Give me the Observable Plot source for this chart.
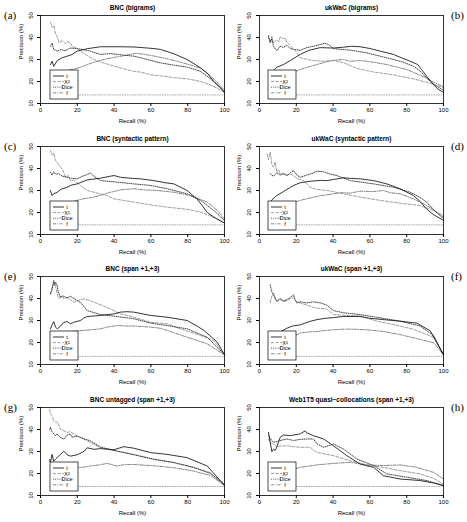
<!DOCTYPE html>
<html><head><meta charset="utf-8">
<script src="https://cdn.jsdelivr.net/npm/d3@7"></script>
<script src="https://cdn.jsdelivr.net/npm/@observablehq/plot@0.6"></script>
<style>
html,body{margin:0;padding:0;background:#fff;}
#chart{position:relative;width:467px;height:522px;overflow:hidden;font-family:"Liberation Sans",Arial,sans-serif;}
.panel{position:absolute;}
.panel svg{overflow:visible;}
.tag{position:absolute;font-family:"Liberation Serif","DejaVu Serif",serif;font-size:11px;line-height:11px;}
</style></head><body><div id="chart"></div>
<script>
// ---- data: [recall %, precision %] ----
const a_t=[[5.4,27.7],[6.3,29.2],[7.2,26.9],[9.1,29.5],[11.8,30.8],[14.5,31.5],[17.2,32.3],[19.9,33.8],[25.4,34.9],[32.6,35.8],[41.7,35.8],[50.7,35.7],[59.8,35.1],[65.2,34.6],[72.5,32.6],[79.7,30],[87,26.2],[90.6,23.8],[94.2,20],[97.8,17.2],[100,15]];
const a_x2=[[5.4,47],[6.3,44.6],[7.2,45.5],[8.2,41.5],[9.1,40.5],[10,37.7],[11.8,38.5],[13.6,37.2],[14.5,38.2],[16.3,37.5],[17.2,36],[19.9,35],[21.7,33.8],[25.4,31.8],[29,30],[34,28.5],[40,27],[45,25.8],[51,24.6],[55,24.2],[60,23],[66,22.5],[72,21.8],[80,21.2],[87,20],[92,18.5],[96,17],[100,15]];
const a_dice=[[5.4,36],[6.3,37.5],[7.2,34.6],[9.1,33.8],[11,34.5],[13.6,34],[16,35.2],[19.9,35],[23.6,34.4],[27,33.8],[32.6,32.3],[38,32.7],[45,32],[51,31.5],[58,30],[65,28.5],[72,27.5],[80,26.5],[87,24.6],[92,21.5],[96,18.5],[100,15.2]];
const a_f=[[12.7,24.6],[14.5,25],[18,25.6],[21.7,26.5],[25.4,27.7],[30,29],[36,30.3],[41.7,31.2],[47,32],[52,32.8],[56,32.4],[62,31.5],[68,30.5],[75,29],[81.5,27.5],[87,26],[91,23.5],[95,20.5],[100,16]];

const b_t=[[5.8,23.8],[7.6,25],[9.4,26.5],[13,27.7],[16.7,29.5],[22.1,32.3],[27,34.2],[33,35.4],[40,35.2],[45.7,35.6],[50,36],[54.7,35.8],[60,35],[65.6,33.8],[72.8,32.3],[78,30.5],[81.9,29.2],[86,27.7],[88,25.5],[90.9,22.3],[94.6,18.5],[97,16.5],[100,15]];
const b_x2=[[4.9,40],[5.8,38],[6.7,40.5],[7.6,37.5],[9.4,39],[10.5,38],[11.2,40.2],[13,39.5],[14,39.8],[14.9,37.7],[16.7,36.5],[17.6,35.4],[19.5,34],[22.1,30.8],[25,30.2],[29.3,29.5],[35,29.2],[40.2,29.6],[45.7,28.5],[52.9,26],[62,24.3],[72.8,23],[83.7,21.2],[92.8,19.2],[100,17.2]];
const b_dice=[[4.9,40.8],[5.8,37.5],[6.7,39.5],[7.6,36],[9.4,34],[11.2,36],[13,35.5],[14.9,36.5],[16.7,35],[18.5,34.6],[22.1,34.2],[25.7,35.4],[29.3,36],[33,36.8],[35.5,37.4],[37.5,36.8],[40.2,35],[44,34.6],[50,34.2],[58.3,33],[65.6,31.5],[72.8,30],[78,28.8],[83.7,26.9],[87,25],[90.9,21.5],[95,18.5],[100,16]];
const b_f=[[15.8,24.6],[18.5,24.2],[22.1,25.4],[26,26.5],[31.2,27.7],[36.6,29],[42,29.8],[45.7,30],[49.3,29.2],[54.7,29.5],[58.3,29.2],[63.8,28.5],[69.2,27.7],[75,26.5],[80.1,25.4],[85.5,23.5],[90.9,21.5],[95,19.5],[100,17.7]];

const c_t=[[5.4,30],[6.3,27.7],[7.2,28.5],[9.1,29.2],[11,30.5],[14.5,31.5],[17,32.5],[19.9,33],[25.4,34.8],[32.6,35.6],[38,36.5],[40,36.8],[43.5,36],[50,35.5],[54.3,35.3],[61.6,34.5],[68,33.5],[72.5,33],[79.7,30],[85,26.2],[88,23],[90.6,20],[95,17.5],[100,15.2]];
const c_x2=[[5.4,48.2],[6.3,46],[7.2,47],[8.2,43.5],[9.1,42.9],[10,41.5],[10.9,40.6],[12,39.5],[13.6,36],[15,36.8],[16.3,34.5],[18,34.8],[21.7,32.3],[25.4,30],[30,29],[36,27.7],[40,26.2],[45,25.5],[51,24.7],[58,23.7],[62,23.2],[68,22.5],[72.5,22.1],[80,21.4],[87,20.2],[92,18.5],[96,17],[100,15.2]];
const c_dice=[[5.4,38.3],[6.3,37],[7.2,38.5],[8.2,37.5],[10,37.6],[12,36.5],[14.5,36],[17,35.5],[19.9,35.3],[23,36.5],[27.2,37.9],[29,36.5],[32.6,34.5],[41.7,33.8],[50.7,33],[59.8,32.3],[68.8,30.8],[79.7,28.5],[87,25.5],[94.2,20.9],[100,16.4]];
const c_f=[[12.7,23.9],[16,24.5],[19.9,25.5],[23,26.2],[29,27],[34,28.2],[38,29.2],[43.5,30.3],[50.7,30.8],[56,30.3],[63.4,30],[72.5,29.2],[81.5,27.7],[90.6,24.7],[96,21],[100,17.1]];

const d_t=[[5.8,24.7],[7.6,26.5],[9.4,27.7],[13,29.5],[18.5,32.3],[22.1,33.5],[27.5,34.2],[33,34.6],[36.6,34.5],[40.2,35],[45.7,35.8],[49.3,35.5],[54.7,35.3],[62,34.5],[69.2,33],[76.4,30.8],[83.7,27.7],[87.3,25],[90.9,21.5],[94.6,19],[100,16.4]];
const d_x2=[[4,46.7],[4.9,44],[5.8,47.5],[6.7,42],[7.6,40.6],[8.5,43],[9.4,38.3],[10.5,39.5],[11.2,37.5],[13,37.9],[14.9,37],[16.7,37.5],[18.5,36.8],[20.3,35.5],[23.9,34.5],[27.5,31.5],[31,30.5],[36.6,30],[40,29.5],[45.7,28.5],[54.7,27],[65.6,25.5],[76.4,24.2],[87.3,23.2],[94.6,20.9],[100,18.6]];
const d_dice=[[5.8,37.6],[7.6,36.5],[9.4,38],[11.2,37],[13,37.5],[14.9,36.8],[16.7,38],[18.5,39],[20.3,37],[22.1,36],[25.7,37],[29.3,38],[31.2,38.8],[34.8,38.5],[38.4,37.5],[42,36.8],[49.3,34.5],[62,33],[72.8,31.5],[81.9,29.2],[87,27],[90.9,24.7],[95,21],[100,17.1]];
const d_f=[[13,23.2],[18,24.5],[22.1,25.5],[27,26.5],[31.2,27.3],[36,28],[40.2,28.5],[45,29],[49.3,28.8],[54.7,29.7],[62,29.5],[67.4,30],[71,29],[76.4,28.5],[83.7,26.2],[90.9,23.2],[95,21],[100,17.9]];

const e_t=[[5.4,26.2],[6.3,28],[7.2,29.5],[8.2,27],[9.1,26.2],[10.9,27.5],[12.7,29.2],[14.5,29.5],[16.3,28.5],[18.1,29.2],[21.7,30],[23.6,31.2],[25.4,31.8],[32.6,32.3],[39.9,33],[43.5,33.8],[47,34],[50.7,33.8],[59.8,32.3],[68.8,31.5],[79.7,30],[85,27.5],[88.8,25.5],[96,20.2],[100,14.4]];
const e_x2=[[5.4,42],[6.3,45],[7.2,47],[8.2,45.5],[9.1,42],[10,40],[11.8,41],[12.7,39.8],[14.5,40.5],[16.3,39.5],[18.1,38.3],[21.7,39.5],[23.6,39.8],[27.2,39],[29,38.3],[36.2,36],[43.5,33],[50.7,31.5],[59.8,29.2],[68.8,28.5],[76.1,26.2],[87,23.2],[94.2,20.9],[100,14.4]];
const e_dice=[[5.4,42.1],[6.3,44],[7.2,48.2],[7.7,46],[8.2,47.5],[9.1,45.9],[9.6,43],[10.9,40.6],[12,41.2],[14.5,40.3],[16.3,41],[19.9,39.1],[22,38],[25.4,34.5],[32.6,32.7],[41.7,31.8],[50.7,30.8],[59.8,28.8],[68.8,27.7],[79.7,26.2],[90.6,22.4],[100,14.4]];
const e_f=[[14.5,24.7],[19,25.2],[23.6,25.5],[28,25.8],[32.6,26.2],[36,27],[41.7,27.7],[47,27.5],[50.7,27.5],[59.8,27],[65,26.5],[68.8,25.5],[79.7,22.4],[90.6,19.4],[100,14.4]];

const f_t=[[9.4,24.3],[11.2,24.8],[14.9,26.5],[18,27.5],[22.1,28],[27,29.5],[31.2,30.4],[36,31],[40.2,31.3],[45,31.8],[49.3,31.8],[54.7,31.8],[60,31],[67.4,30.4],[76.4,29.7],[85.5,28.8],[92.8,25.3],[100,14.4]];
const f_x2=[[5.8,38],[6.7,41],[7.6,42.5],[8.5,40.5],[9.4,38.7],[11.2,39.5],[13,38.5],[14.9,39],[16.7,40],[18.5,40.4],[20.3,38.5],[22.1,38],[25.7,37],[29.3,35.9],[33,35.5],[36.6,35.2],[40.2,32.7],[47.5,32.3],[54.7,32.1],[63.8,29.7],[72.8,28.2],[83.7,26],[94.6,22.4],[100,14.4]];
const f_dice=[[5.8,46.2],[6.7,43],[7.6,41.7],[8.5,40],[9.4,38.7],[11.2,40],[13,39],[14.9,39.4],[16.7,40.5],[18.5,41.7],[19.5,39],[20.3,38],[22.1,38.5],[25.7,38],[29.3,38.5],[33,38],[36.6,37],[40.2,34.5],[45.7,33.5],[54.7,32.7],[65.6,31.2],[76.4,29.7],[87.3,27.5],[94.6,23.2],[100,14.4]];
const f_f=[[16.7,22.1],[20.3,23.5],[22.1,24.3],[27,24.8],[31.2,25],[36,25.5],[40.2,25.8],[44,26],[49.3,26.1],[54.7,25.9],[58.3,25.8],[67.4,25],[76.4,23.6],[87.3,21.4],[94.6,19.9],[100,14.4]];

const g_t=[[5,26.4],[5.4,25],[6.3,28.7],[7.2,25.6],[8.2,26.5],[10,28],[12.7,30.2],[14.5,28.5],[16.3,27.9],[19.9,28.5],[23.6,30],[25.4,31.7],[29,31],[32.6,31.3],[39.9,30.8],[45.3,32.2],[50.7,31.5],[59.8,29.5],[68.8,28.7],[79.7,27.2],[90.6,23.4],[100,14.6]];
const g_x2=[[5,49.2],[5.4,47],[6.3,46.2],[7.2,44],[8.2,43.2],[9.1,43.5],[10.9,40.1],[12.7,39.5],[14.5,38.6],[16,39],[19.9,37.1],[25.4,34.8],[32.6,31.7],[41.7,30.2],[50.7,28.7],[61.6,26.4],[72.5,24.9],[83.3,22.6],[92.4,20.4],[100,14.3]];
const g_dice=[[5,40.1],[5.4,41],[6.3,39],[8.2,37.1],[9.1,38],[10.5,36.5],[12.7,35.6],[14.5,37.5],[16.3,37.9],[17.2,36.5],[19.9,37],[21.7,36.4],[27.2,34.8],[32.6,32],[39.9,30.5],[50.7,28.5],[61.6,26.5],[72.5,25],[83.3,22.8],[92.4,20],[100,15.1]];
const g_f=[[16.3,24.1],[19.9,22.6],[23.6,22.9],[27.2,23.4],[32.6,24],[36.2,24.6],[41.7,23.4],[45.3,24],[50.7,24.1],[56,23.8],[63.4,23.4],[72.5,22.6],[83.3,21.1],[92.4,19.1],[100,14.6]];

const h_t=[[4.9,38.7],[5.8,34.2],[6.7,30],[7.6,31],[8.5,30.5],[9.4,32],[11.2,36.4],[13,37.5],[16.7,37.2],[22.1,38],[24.8,39.4],[25.7,38.5],[29.3,37.2],[34.8,35.7],[40.2,32.6],[47.5,28.1],[54.7,24.3],[58.3,23.5],[62,22.8],[67.4,19],[76.4,17.5],[87.3,16.8],[94.6,15.7],[100,14.5]];
const h_x2=[[4.9,35.7],[5.8,34],[7.6,33.4],[9.4,32],[11.2,32.5],[14.9,32.6],[18.5,32.2],[22.1,31.9],[27.5,31.9],[31.2,29.6],[40.2,28.1],[49.3,25.8],[58.3,23.9],[67.4,22.8],[76.4,21.3],[87.3,19.8],[94.6,17.8],[100,15.2]];
const h_dice=[[4.9,37.2],[5.8,36],[6.7,35],[7.6,34.2],[9.4,34.5],[11.2,35],[14.9,35.7],[18.5,35],[22.1,35.5],[25.7,35.7],[29.3,35.7],[31.2,33.5],[34.8,31.9],[40.2,33.4],[45.7,31.1],[52.9,26.6],[62,23.6],[69.2,19.8],[80.1,18.3],[90.9,16.8],[100,14.5]];
const h_f=[[13,22.1],[16.7,21.5],[22.1,22.8],[31.2,23.9],[40.2,24.6],[49.3,25.1],[58.3,23.9],[67.4,23.6],[76.4,23.9],[85.5,22.8],[94.6,20.5],[100,17.5]];

const titles=["BNC (bigrams)","ukWaC (bigrams)","BNC (syntactic pattern)","ukWaC (syntactic pattern)","BNC (span +1,+3)","ukWaC (span +1,+3)","BNC untagged (span +1,+3)","Web1T5 quasi\u2212collocations (span +1,+3)"];
const tags=["(a)","(b)","(c)","(d)","(e)","(f)","(g)","(h)"];
const baselines=[13.9,13.9,14.4,14.4,13.7,13.7,14.1,14.1];
const baselineRecall=[5,100];
const measures=["t","X\u00b2","Dice","f"];
const xTicks=[0,20,40,60,80,100];
const yTicks=[10,20,30,40,50];

const panelSeries=[
  [a_t,a_x2,a_dice,a_f],[b_t,b_x2,b_dice,b_f],
  [c_t,c_x2,c_dice,c_f],[d_t,d_x2,d_dice,d_f],
  [e_t,e_x2,e_dice,e_f],[f_t,f_x2,f_dice,f_f],
  [g_t,g_x2,g_dice,g_f],[h_t,h_x2,h_dice,h_f]
];

// ---- styles ----
const mStroke=["#111","#8c8c8c","#222","#6e6e6e"];
const mDash=[null,"3,1.6","0.9,1.3","3,1.3,0.9,1.3"];
const drawOrder=[3,1,2,0];
const rowTops=[0,131,261,392];

const chart=document.getElementById("chart");
for(let i=0;i<8;i++){
  const col=i%2,row=Math.floor(i/2);
  const left=col?233:0,width=col?234:233;
  const mL=col?26:40,mR=col?24:9,mT=15,mB=27,H=130;
  const series=panelSeries[i];
  const marks=[];
  marks.push(Plot.line(baselineRecall.map(r=>[r,baselines[i]]),{x:d=>d[0],y:d=>d[1],stroke:"#999",strokeWidth:0.8,strokeDasharray:"1,1.5"}));
  for(const k of drawOrder){
    marks.push(Plot.line(series[k],{x:d=>d[0],y:d=>d[1],stroke:mStroke[k],strokeWidth:0.85,strokeDasharray:mDash[k]}));
  }
  marks.push(Plot.frame({stroke:"#000",strokeWidth:0.8}));
  marks.push(Plot.axisX({ticks:xTicks,tickSize:3,tickPadding:1.5,fontSize:6,label:null,tickFormat:d=>String(d)}));
  marks.push(Plot.axisY({ticks:yTicks,tickSize:3,label:null,tickFormat:()=>""}));
  marks.push(Plot.text(yTicks,{y:d=>d,text:d=>String(d),frameAnchor:"left",dx:col?-10:-9,rotate:-90,fontSize:6,textAnchor:"middle"}));
  marks.push(Plot.text(["Recall (%)"],{text:d=>d,frameAnchor:"bottom",dy:19,fontSize:6}));
  marks.push(Plot.text(["Precision (%)"],{text:d=>d,frameAnchor:"left",dx:col?-20:-19,rotate:-90,fontSize:6}));
  marks.push(Plot.text([titles[i]],{text:d=>d,frameAnchor:"top",dy:-10,fontSize:6.5,fontWeight:"bold"}));
  const plot=Plot.plot({
    width,height:H,marginLeft:mL,marginRight:mR,marginTop:mT,marginBottom:mB,
    x:{domain:[0,100]},y:{domain:[10,50]},
    style:{fontFamily:"'Liberation Sans',Arial,sans-serif",background:"transparent",color:"#000"},
    marks
  });
  // legend
  const svg=d3.select(plot);
  const lx=mL+(col?9:10), ly=mT+55;
  const g=svg.append("g").attr("transform",`translate(${lx},${ly})`);
  g.append("rect").attr("width",28).attr("height",29).attr("fill","#fff").attr("stroke","#000").attr("stroke-width",0.7);
  measures.forEach((m,k)=>{
    const yy=6+k*5.6;
    const ln=g.append("line").attr("x1",3).attr("x2",14).attr("y1",yy).attr("y2",yy)
      .attr("stroke",mStroke[k]).attr("stroke-width",0.85);
    if(mDash[k]) ln.attr("stroke-dasharray",mDash[k]);
    g.append("text").attr("x",17).attr("y",yy).attr("dy","0.35em").attr("font-size",5.5)
      .attr("font-family","'Liberation Sans',Arial,sans-serif").text(m);
  });
  const div=document.createElement("div");
  div.className="panel";
  div.style.left=left+"px";div.style.top=rowTops[row]+"px";
  div.appendChild(plot);
  chart.appendChild(div);
  const tg=document.createElement("div");
  tg.className="tag";
  tg.textContent=tags[i];
  tg.style.left=(col?451:4)+"px";
  tg.style.top=(rowTops[row]+10)+"px";
  chart.appendChild(tg);
}
</script></body></html>
